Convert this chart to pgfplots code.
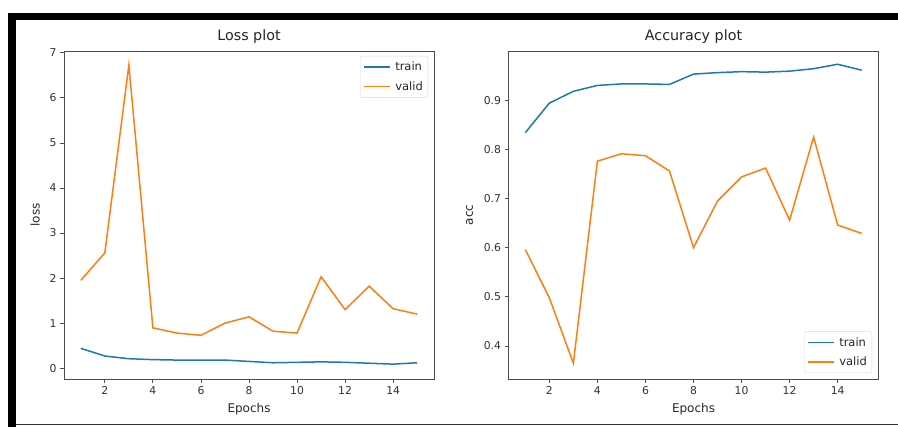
\documentclass[border=0pt]{standalone}
\usepackage{pgfplots}
\pgfplotsset{compat=1.18}
\usepackage{fontspec}
\setmainfont{DejaVu Sans}
\definecolor{mplblue}{HTML}{1F77B4}
\definecolor{mplorange}{HTML}{FF7F0E}
\pgfplotstableread{
ep trl val
1 0.44 1.95
2 0.27 2.56
3 0.21 6.73
4 0.19 0.895
5 0.18 0.78
6 0.18 0.73
7 0.18 1.00
8 0.15 1.14
9 0.12 0.82
10 0.13 0.78
11 0.14 2.03
12 0.13 1.30
13 0.11 1.82
14 0.09 1.32
15 0.12 1.20
}\losstable
\pgfplotstableread{
ep tra vaa
1 0.834 0.596
2 0.894 0.498
3 0.918 0.365
4 0.930 0.776
5 0.933 0.791
6 0.933 0.787
7 0.932 0.756
8 0.953 0.600
9 0.956 0.695
10 0.958 0.744
11 0.957 0.762
12 0.959 0.656
13 0.964 0.825
14 0.973 0.646
15 0.961 0.629
}\acctable
\pgfplotsset{
  mplstyle/.style={
    scale only axis, width=370pt, height=328pt,
    axis line style={black!70, line width=0.8pt},
    tick style={black!70, line width=0.8pt},
    major tick length=4pt, tick align=outside, tick pos=left,
    xmin=0.3, xmax=15.7, xtick={2,4,...,14},
    /pgf/number format/assume math mode=true,
    tick label style={font=\fontsize{10.8}{12}\selectfont, text=black!80},
    label style={font=\fontsize{12}{14}\selectfont, text=black!85},
    title style={font=\fontsize{14.3}{16}\selectfont, text=black!85, yshift=-2.5pt},
    xlabel={Epochs},
    xlabel style={at={(axis description cs:0.5,-0.0915)}, anchor=center},
    legend cell align=left,
    legend style={draw=black!15, rounded corners=2pt, font=\fontsize{11.5}{13}\selectfont, text=black!85, inner xsep=3pt, inner ysep=4pt, row sep=5pt, column sep=2pt},
    legend image code/.code={\draw[#1] (0pt,0pt) -- (26pt,0pt);},
    legend image post style={line width=1.8pt},
  }
}
\begin{document}
\begin{tikzpicture}[x=1pt,y=1pt]
\useasboundingbox (0,0) rectangle (898,427);
\fill[white] (0,0) rectangle (898,427);
\fill[black] (8,407) rectangle (898,414);
\fill[black] (8,0) rectangle (16,414);
\draw[black!80, line width=1pt] (16,2) -- (898,2);
\begin{axis}[mplstyle, at={(64pt,48pt)}, anchor=south west,
  ymin=-0.24, ymax=7.04, ytick={0,1,...,7},
  title={Loss plot}, ylabel={loss},
  ylabel style={at={(axis description cs:-0.078,0.5)}, anchor=center},
  legend style={at={(1,1)}, anchor=north east, xshift=-6pt, yshift=-5pt}]
\addplot[mplblue, line width=1.5pt] table[x=ep, y=trl] {\losstable};
\addlegendentry{train}
\addplot[mplorange, line width=1.5pt] table[x=ep, y=val] {\losstable};
\addlegendentry{valid}
\end{axis}
\begin{axis}[mplstyle, at={(508.5pt,48pt)}, anchor=south west,
  ymin=0.333, ymax=1.0, ytick={0.4,0.5,...,0.9},
  yticklabel style={/pgf/number format/fixed, /pgf/number format/precision=1},
  title={Accuracy plot}, ylabel={acc},
  ylabel style={at={(axis description cs:-0.105,0.5)}, anchor=center},
  legend style={at={(1,0)}, anchor=south east, xshift=-6.5pt, yshift=6pt}]
\addplot[mplblue, line width=1.5pt] table[x=ep, y=tra] {\acctable};
\addlegendentry{train}
\addplot[mplorange, line width=1.5pt] table[x=ep, y=vaa] {\acctable};
\addlegendentry{valid}
\end{axis}
\end{tikzpicture}
\end{document}
